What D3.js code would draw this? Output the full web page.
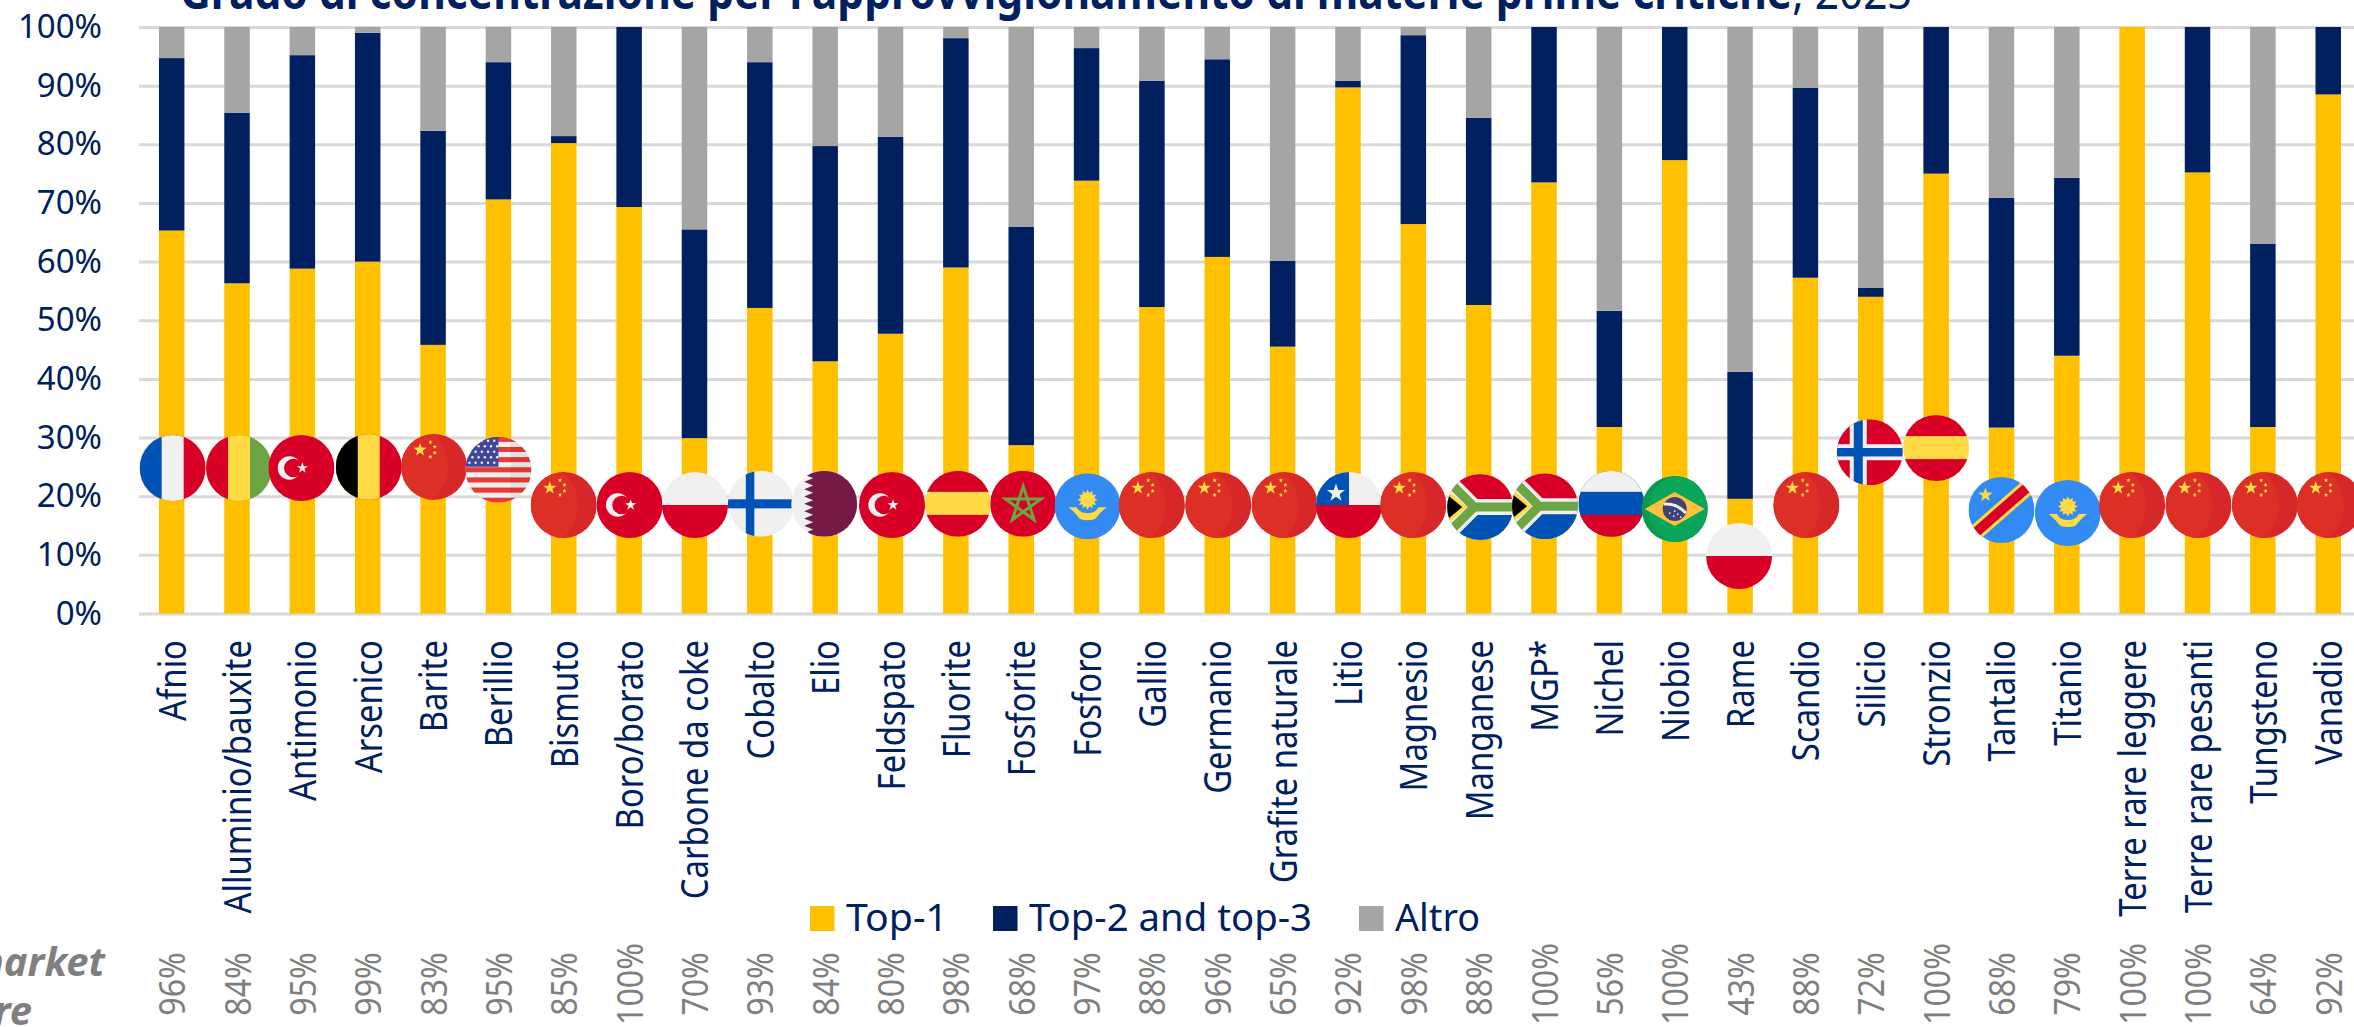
<!DOCTYPE html>
<html>
<head>
<meta charset="utf-8">
<script src="https://d3js.org/d3.v7.min.js"></script>
<style>
  html, body { margin: 0; padding: 0; background: #fff; overflow: hidden; }
  text { font-family: "Noto Sans", sans-serif; }
  .domain { display: none; }
</style>
</head>
<body>
<div id="chart"></div>
<script>
// Data
var categories = ['Afnio', 'Alluminio/bauxite', 'Antimonio', 'Arsenico', 'Barite', 'Berillio', 'Bismuto', 'Boro/borato',
    'Carbone da coke', 'Cobalto', 'Elio', 'Feldspato', 'Fluorite', 'Fosforite', 'Fosforo', 'Gallio', 'Germanio',
    'Grafite naturale', 'Litio', 'Magnesio', 'Manganese', 'MGP*', 'Nichel', 'Niobio', 'Rame', 'Scandio', 'Silicio',
    'Stronzio', 'Tantalio', 'Titanio', 'Terre rare leggere', 'Terre rare pesanti', 'Tungsteno', 'Vanadio'];
var top1 = [65.3, 56.3, 58.8, 60, 45.8, 70.6, 80.2, 69.3, 29.9, 52.1, 43, 47.7, 59, 28.7, 73.8, 52.25, 60.8,
    45.5, 89.7, 66.4, 52.6, 73.5, 31.8, 77.3, 19.55, 57.25, 54, 75, 31.7, 43.95, 100, 75.2, 31.8, 88.5];
var top2and3 = [29.4, 29.1, 36.4, 39, 36.5, 23.4, 1.2, 30.7, 35.6, 41.9, 36.7, 33.55, 39.1, 37.2, 22.6, 38.6, 33.7,
    14.65, 1.15, 32.2, 31.9, 26.5, 19.8, 22.7, 21.65, 32.35, 1.5, 25, 39.2, 30.35, 0, 24.8, 31.2, 11.5];
var altro = [5.3, 14.6, 4.8, 1, 17.7, 6, 18.6, 0, 34.5, 6, 20.3, 18.75, 1.9, 34.1, 3.6, 9.15, 5.5,
    39.85, 9.15, 1.4, 15.5, 0, 48.4, 0, 58.8, 10.4, 44.5, 0, 29.1, 25.7, 0, 0, 37, 0];
var marketShare = ['96%', '84%', '95%', '99%', '83%', '95%', '85%', '100%', '70%', '93%', '84%', '80%', '98%', '68%',
    '97%', '88%', '96%', '65%', '92%', '98%', '88%', '100%', '56%', '100%', '43%', '88%', '72%', '100%', '68%', '79%',
    '100%', '100%', '64%', '92%'];
var flags = ['fr', 'gn', 'tr', 'be', 'cn', 'us', 'cn', 'tr', 'pl', 'fi', 'qa', 'tr', 'es', 'ma', 'kz', 'cn', 'cn',
    'cn', 'cl', 'cn', 'za', 'za', 'ru', 'br', 'pl', 'cn', 'no', 'es', 'cd', 'kz', 'cn', 'cn', 'cn', 'cn'];
// height of each flag, read on the % axis
var flagLevels = [24.8, 24.8, 24.8, 25, 25, 24.5, 18.5, 18.5, 18.5, 18.7, 18.7, 18.5, 18.7, 18.7, 18.3, 18.5, 18.5,
    18.5, 18.5, 18.5, 18.15, 18.3, 18.7, 17.8, 9.8, 18.5, 27.5, 28.2, 17.65, 17.15, 18.5, 18.5, 18.5, 18.5];
var seriesNames = ['Top-1', 'Top-2 and top-3', 'Altro'];
var yTicks = [0, 10, 20, 30, 40, 50, 60, 70, 80, 90, 100];

// Layout
var svgWidth = 2354;
var svgHeight = 1027;
var x0 = 139;
var step = 65.35;
var yBottom = 613.5;
var yTop = 27;
var flagRadius = 33;
// the flags sit slightly off the bar centres
var flagNudge = [1, 2, -1, 1, 1, 0, 0, 0.5, 0.5, 1, -1, 1.5, 2, 2, 1, 0, 1, 2, 1, 0, 1.5, 1, 2, 0, -1, 1, -1, 0, 0, 1, 0, 1, 2, 1.5];
var navy = '#002060';
var colors = ['#FFC000', navy, '#A5A5A5'];
var red = '#D80027', white = '#F0F0F0', yellow = '#FFDA44', blue = '#0052B4', green = '#6DA544', sky = '#338AF3';

var svg = d3.select('#chart')
    .append('svg')
    .attr('width', svgWidth)
    .attr('height', svgHeight);

var xScale = d3.scaleBand()
    .domain(categories)
    .range([x0, x0 + step * categories.length])
    .paddingInner(0.61)
    .paddingOuter(0.305);

var yScale = d3.scaleLinear()
    .domain([0, 100])
    .range([yBottom, yTop]);

// Title, cut by the top edge like the source
var title = svg.append('text')
    .attr('x', 180)
    .attr('y', 9)
    .attr('font-size', 48)
    .attr('fill', navy)
    .attr('textLength', 1732)
    .attr('lengthAdjust', 'spacingAndGlyphs');

title.append('tspan')
    .attr('font-weight', 700)
    .text("Grado di concentrazione per l'approvvigionamento di materie prime critiche");

title.append('tspan')
    .text(', 2023');

// Y axis + grid
var yAxis = svg.append('g')
    .attr('transform', `translate(${x0},0)`)
    .call(d3.axisLeft(yScale).tickValues(yTicks).tickFormat(d => d + '%').tickSize(-(svgWidth - x0)).tickPadding(37));

yAxis.selectAll('.tick line')
    .attr('stroke', '#D9D9D9')
    .attr('stroke-width', 3);

yAxis.selectAll('.tick text')
    .attr('font-size', 33)
    .attr('fill', navy);

// Stacked bars
var rows = categories.map((c, i) => ({ name: c, 'Top-1': top1[i], 'Top-2 and top-3': top2and3[i], 'Altro': altro[i] }));
var stacked = d3.stack().keys(seriesNames)(rows);

svg.append('g')
    .selectAll('g')
    .data(stacked)
    .enter()
    .append('g')
    .attr('fill', (d, i) => colors[i])
    .selectAll('rect')
    .data(d => d)
    .enter()
    .append('rect')
    .attr('x', d => xScale(d.data.name))
    .attr('y', d => yScale(d[1]))
    .attr('width', xScale.bandwidth())
    .attr('height', d => yScale(d[0]) - yScale(d[1]));

// Category labels
var xAxis = svg.append('g')
    .attr('transform', `translate(0,${yBottom})`)
    .call(d3.axisBottom(xScale).tickSize(0));

xAxis.selectAll('.tick text')
    .attr('font-size', 38)
    .attr('fill', navy)
    .attr('text-anchor', 'end')
    .attr('dy', 0)
    .attr('y', 14)
    .attr('x', -26.5 / 0.865)
    .attr('transform', 'rotate(-90) scale(0.865,1)');

// Market share row
svg.append('g')
    .selectAll('text')
    .data(marketShare)
    .enter()
    .append('text')
    .attr('transform', (d, i) => `translate(${xScale(categories[i]) + xScale.bandwidth() / 2 + 13.5},984) rotate(-90) scale(0.87,1)`)
    .attr('text-anchor', 'middle')
    .attr('font-size', 37)
    .attr('fill', '#7F7F7F')
    .text(d => d);

// Row label, cut by the left edge
svg.append('text')
    .attr('x', 105)
    .attr('y', 976)
    .attr('text-anchor', 'end')
    .attr('font-size', 40)
    .attr('font-weight', 700)
    .attr('font-style', 'italic')
    .attr('fill', '#7F7F7F')
    .text('market');

svg.append('text')
    .attr('x', 32)
    .attr('y', 1025)
    .attr('text-anchor', 'end')
    .attr('font-size', 40)
    .attr('font-weight', 700)
    .attr('font-style', 'italic')
    .attr('fill', '#7F7F7F')
    .text('share');

// Legend
var legendX = [810, 993, 1359];
var legendW = [102, 283, 85];
var legend = svg.append('g')
    .selectAll('g')
    .data(seriesNames)
    .enter()
    .append('g')
    .attr('transform', (d, i) => `translate(${legendX[i]},906)`);

legend.append('rect')
    .attr('width', 24.5)
    .attr('height', 25)
    .attr('fill', (d, i) => colors[i]);

legend.append('text')
    .attr('x', 36)
    .attr('y', 25)
    .attr('font-size', 38)
    .attr('fill', navy)
    .attr('textLength', (d, i) => legendW[i])
    .attr('lengthAdjust', 'spacingAndGlyphs')
    .text(d => d);

// Flags
svg.append('defs')
    .append('clipPath')
    .attr('id', 'flagClip')
    .append('circle')
    .attr('r', flagRadius);

function rect(g, x, y, w, h, fill) {
    return g.append('rect').attr('x', x).attr('y', y).attr('width', w).attr('height', h).attr('fill', fill);
}

function path(g, d, fill) {
    return g.append('path').attr('d', d).attr('fill', fill);
}

function line(g, d, stroke, width) {
    return g.append('path').attr('d', d).attr('fill', 'none').attr('stroke', stroke).attr('stroke-width', width);
}

function disc(g, cx, cy, r, fill) {
    return g.append('circle').attr('cx', cx).attr('cy', cy).attr('r', r).attr('fill', fill);
}

function star(g, cx, cy, r, fill, points, inner) {
    var n = points || 5;
    var ratio = inner || 0.4;
    var pts = d3.range(n * 2).map(i => {
        var a = -Math.PI / 2 + i * Math.PI / n;
        var rr = i % 2 ? r * ratio : r;
        return [cx + rr * Math.cos(a), cy + rr * Math.sin(a)];
    });
    return path(g, 'M' + pts.join('L') + 'Z', fill);
}

function vbands(g, a, b, c, cut) {
    rect(g, -33, -33, 66, 66, c);
    rect(g, -33, -33, 33 + cut, 66, b);
    rect(g, -33, -33, 33 - cut, 66, a);
}

function hbands(g, a, b, c, top, bottom) {
    rect(g, -33, -33, 66, 66, b);
    rect(g, -33, -33, 66, 33 + top, a);
    rect(g, -33, bottom, 66, 33 - bottom, c);
}

function turkish(g) {
    rect(g, -33, -33, 66, 66, red);
    disc(g, -12, 0, 11.7, white);
    disc(g, -8, 0, 9.3, red);
    star(g, 1, 0, 5.8, white);
}

function spanish(g) {
    hbands(g, red, yellow, red, -12, 11);
}

function chinese(g) {
    rect(g, -33, -33, 66, 66, '#D62828');
    g.append('ellipse').attr('cx', -22).attr('cy', 0).attr('rx', 36).attr('ry', 40).attr('fill', '#DC3027');
    star(g, -14, -17, 7, '#FFDA44');
    [[-3.7, -24.7], [0.7, -20], [0.7, -14], [-3.7, -10]].forEach(p => star(g, p[0], p[1], 2.4, '#FFDA44'));
}

function kazakh(g) {
    rect(g, -33, -33, 66, 66, sky);
    star(g, 0, -6.5, 10, yellow, 12, 0.68);
    path(g, 'M-19,1 L-11,1 Q-8,7 0,7 Q8,7 11,1 L19,1 Q13,6 9,11 Q8,14 0,14 Q-8,14 -9,11 Q-13,6 -19,1Z', yellow);
}

function southAfrican(g) {
    hbands(g, red, white, blue, 0, 0);
    line(g, 'M-40,-34 L-6,0 L33,0 M-40,34 L-6,0', white, 16);
    line(g, 'M-40,-34 L-6,0 L33,0 M-40,34 L-6,0', green, 9);
    path(g, 'M-36,-20 L-13,0 L-36,20Z', yellow);
    path(g, 'M-36,-15 L-18,0 L-36,15Z', '#000');
}

var flagPainters = {
    fr: g => vbands(g, blue, white, red, 11),
    gn: g => vbands(g, red, yellow, green, 11),
    be: g => vbands(g, '#000', yellow, red, 11),
    tr: turkish,
    cn: chinese,
    es: spanish,
    kz: kazakh,
    za: southAfrican,
    us: g => {
        rect(g, -33, -33, 66, 66, white);
        d3.range(7).forEach(i => rect(g, -33, -33 + i * 10.15, 66, 5.08, '#E73B36'));
        rect(g, -33, -33, 33, 30, '#41479B');
        d3.range(5).forEach(r => d3.range(5).forEach(c => disc(g, -29 + c * 6.2 + (r % 2) * 3, -29 + r * 5.5, 1.2, white)));
        rect(g, 12, -33, 21, 66, 'rgba(0,0,0,0.05)');
    },
    pl: g => {
        rect(g, -33, -33, 66, 33, white);
        rect(g, -33, 0, 66, 33, red);
    },
    fi: g => {
        rect(g, -33, -33, 66, 66, white);
        rect(g, -15, -33, 8.5, 66, blue);
        rect(g, -33, -4.5, 66, 9, blue);
    },
    no: g => {
        rect(g, -33, -33, 66, 66, red);
        rect(g, -20, -33, 17, 66, white);
        rect(g, -33, -8, 66, 16, white);
        rect(g, -16, -33, 9, 66, blue);
        rect(g, -33, -4.2, 66, 8.4, blue);
    },
    qa: g => {
        rect(g, -33, -33, 66, 66, white);
        var n = 9;
        var h = 66 / n;
        var pts = [[33, -33], [-11, -33]];
        d3.range(n).forEach(i => {
            pts.push([-20, -33 + (i + 0.5) * h]);
            pts.push([-11, -33 + (i + 1) * h]);
        });
        pts.push([33, 33]);
        path(g, 'M' + pts.join('L') + 'Z', '#751A46');
    },
    ma: g => {
        rect(g, -33, -33, 66, 66, red);
        var pts = [0, 2, 4, 1, 3].map(i => {
            var a = -Math.PI / 2 + i * 2 * Math.PI / 5;
            return [18.5 * Math.cos(a), 1 + 18.5 * Math.sin(a)];
        });
        line(g, 'M' + pts.join('L') + 'Z', green, 3);
    },
    cl: g => {
        rect(g, -33, -33, 66, 33, white);
        rect(g, -33, -33, 33, 33, blue);
        rect(g, -33, 0, 66, 33, red);
        star(g, -13, -12, 9.5, white);
    },
    ru: g => hbands(g, white, blue, red, -12, 11),
    br: g => {
        rect(g, -33, -33, 66, 66, '#0A9A4C');
        disc(g, 9, 0, 35, '#0AA45A');
        path(g, 'M-30,0 L0,-17 L30,0 L0,17Z', '#FFC13B');
        disc(g, 0, 0, 12, '#3E4277');
        line(g, 'M-11,-5 Q2,-6 11,4', white, 3);
        [[-5, 4], [-1, 7], [3, 5], [6, 8], [0, 2]].forEach(p => disc(g, p[0], p[1], 0.9, white));
    },
    cd: g => {
        rect(g, -33, -33, 66, 66, sky);
        line(g, 'M-40,35 L40,-35', yellow, 16);
        line(g, 'M-40,35 L40,-35', red, 10);
        star(g, -16, -15, 7.5, yellow);
    }
};

var flagGroups = svg.append('g')
    .selectAll('g')
    .data(flags)
    .enter()
    .append('g')
    .attr('transform', (d, i) => `translate(${xScale(categories[i]) + xScale.bandwidth() / 2 + flagNudge[i]},${yScale(flagLevels[i])})`)
    .append('g')
    .attr('clip-path', 'url(#flagClip)');

flagGroups.each(function(d) {
    flagPainters[d](d3.select(this));
});
</script>
</body>
</html>
